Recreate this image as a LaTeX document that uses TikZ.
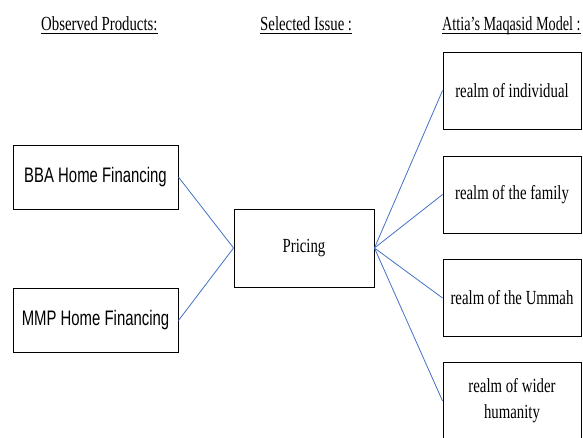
\documentclass[tikz,border=0pt]{standalone}
\usepackage{fontspec}
\setmainfont{Liberation Serif}
\newfontfamily\serifc[FakeStretch=0.74]{Liberation Serif}
\newfontfamily\serifn[FakeStretch=0.71]{Liberation Serif}
\newfontfamily\sansc[FakeStretch=0.71]{Liberation Sans}
\definecolor{connblue}{RGB}{68,114,196}
\begin{document}
\begin{tikzpicture}[x=1pt,y=-1pt,
  boxbase/.style={draw=black, line width=0.9pt, fill=white, inner sep=0pt, align=center},
  prodbox/.style={boxbase, minimum width=165pt, minimum height=64pt, font=\sansc\fontsize{21}{25}\selectfont},
  issuebox/.style={boxbase, minimum width=140pt, minimum height=78pt, font=\serifc\fontsize{20}{26}\selectfont},
  realmbox/.style={boxbase, minimum width=138pt, minimum height=77pt, font=\serifc\fontsize{20}{26}\selectfont},
  hdr/.style={inner sep=0pt, font=\serifc\fontsize{20}{23}\selectfont},
  uline/.style={line width=0.8pt, black},
  conn/.style={draw=connblue, line width=0.8pt}
]
\clip (0,0) rectangle (583,437);
\fill[white] (0,0) rectangle (583,437);

% headers
\node[hdr, anchor=base west] (h1) at (41,30.7) {Observed Products:};
\node[hdr, anchor=base west] (h2) at (260,30.7) {Selected Issue\,:};
\node[hdr, anchor=base west, font=\serifn\fontsize{20}{23}\selectfont] (h3) at (442,30.7) {Attia’s Maqasid Model :};
\foreach \h in {h1,h2,h3}{
  \draw[uline] ([yshift=-2.8pt]\h.base west) -- ([yshift=-2.8pt]\h.base east);
}

% boxes
\node[prodbox] (bba) at (95.5,177) {BBA Home Financing};
\node[prodbox] (mmp) at (95.5,320.5) {MMP Home Financing};
\node[issuebox] (pricing) at (304,248) {Pricing};
\node[realmbox] (r1) at (512,90.5) {realm of individual};
\node[realmbox] (r2) at (512,194.5) {realm of the family};
\node[realmbox] (r3) at (512,298) {realm of the Ummah};
\node[realmbox, minimum height=78pt] (r4) at (512,401) {realm of wider\\humanity};

% connectors
\draw[conn] (bba.east) -- (pricing.west);
\draw[conn] (mmp.east) -- (pricing.west);
\draw[conn] (pricing.east) -- (r1.west);
\draw[conn] (pricing.east) -- (r2.west);
\draw[conn] (pricing.east) -- (r3.west);
\draw[conn] (pricing.east) -- (r4.west);
\end{tikzpicture}
\end{document}
